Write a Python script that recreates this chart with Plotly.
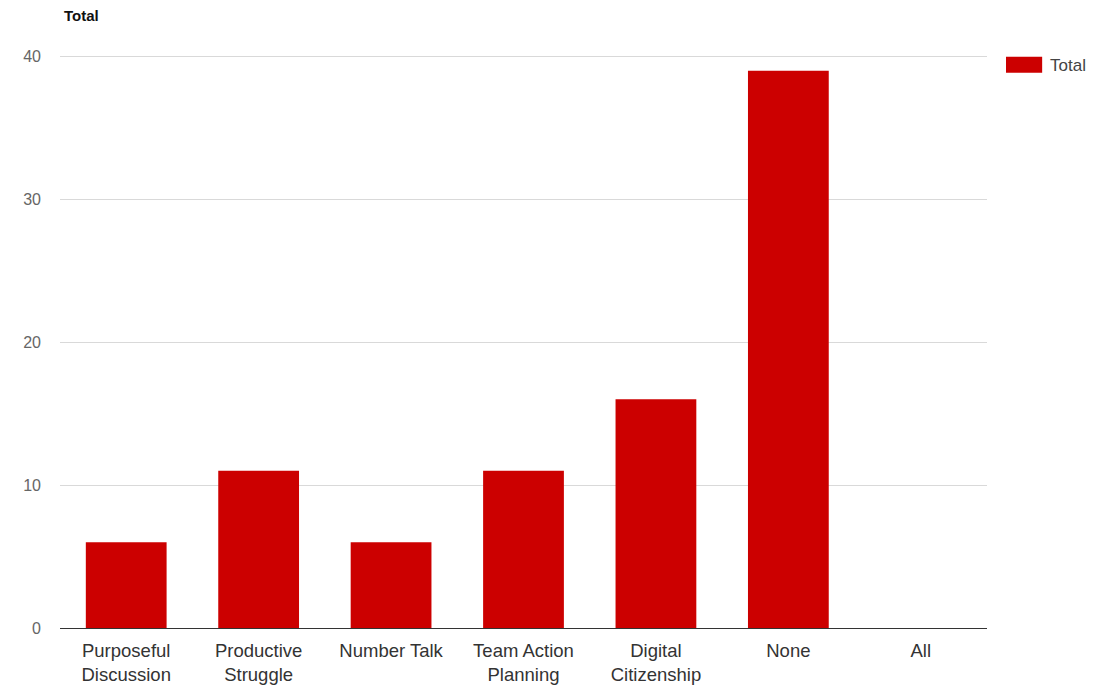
import plotly.graph_objects as go

categories = ["Purposeful<br>Discussion", "Productive<br>Struggle", "Number Talk",
              "Team Action<br>Planning", "Digital<br>Citizenship", "None", "All"]
totals = [6, 11, 6, 11, 16, 39, 0]
series_name = "Total"
bar_color = "#cc0000"

fig = go.Figure()
fig.add_trace(go.Bar(x=categories, y=totals, name=series_name,
                     marker=dict(color=bar_color, line=dict(width=0)),
                     showlegend=False))

fig.update_layout(
    width=1095, height=686,
    margin=dict(l=60, r=108, t=55, b=58, autoexpand=False),
    paper_bgcolor="white", plot_bgcolor="white",
    font=dict(family="Liberation Sans, Arial, sans-serif", color="#444444"),
    bargap=0.39,
    xaxis=dict(showgrid=False, showline=True, linecolor="#333333", linewidth=1,
               ticks="", tickfont=dict(size=18.5, color="#333333"),
               ticklabelstandoff=6, automargin=False),
    yaxis=dict(range=[0, 40.1], tickvals=[0, 10, 20, 30, 40], showgrid=True,
               gridcolor="#d9d9d9", zeroline=False, ticks="", automargin=False,
               tickfont=dict(size=16, color="#666666"), ticklabelstandoff=18),
    annotations=[
        dict(text="<b>Total</b>", xref="paper", yref="paper", x=0.002, y=1.05,
             xanchor="left", yanchor="bottom", showarrow=False,
             font=dict(size=15, color="#111111")),
        dict(text=series_name, xref="paper", yref="paper", x=1.066, y=0.982,
             xanchor="left", yanchor="middle", showarrow=False,
             font=dict(size=17, color="#444444")),
    ],
    shapes=[
        dict(type="rect", xref="paper", yref="paper", x0=1.0205, x1=1.0595,
             y0=0.969, y1=0.997, fillcolor=bar_color, line=dict(width=0)),
    ],
)

fig.write_html("out.html")
